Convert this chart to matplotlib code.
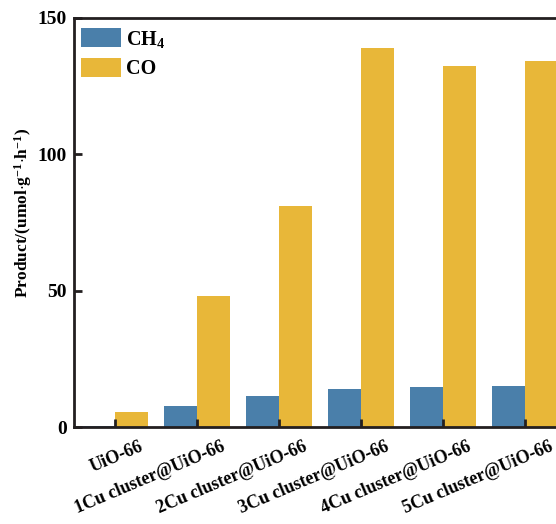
import matplotlib
matplotlib.use("Agg")
import matplotlib.pyplot as plt
import matplotlib.transforms as mtransforms
import numpy as np

plt.rcParams['font.family'] = ['Liberation Serif', 'DejaVu Serif']
plt.rcParams['font.weight'] = 'bold'
plt.rcParams['mathtext.fontset'] = 'custom'
plt.rcParams['mathtext.rm'] = 'Liberation Serif:bold'
plt.rcParams['mathtext.it'] = 'Liberation Serif:bold'
plt.rcParams['mathtext.bf'] = 'Liberation Serif:bold'

# data
samples = ['UiO-66', '1Cu cluster@UiO-66', '2Cu cluster@UiO-66',
           '3Cu cluster@UiO-66', '4Cu cluster@UiO-66', '5Cu cluster@UiO-66']
ch4 = [0.4, 7.7, 11.4, 13.9, 14.7, 15.0]
co = [5.5, 48.0, 81.0, 139.0, 132.4, 134.2]
yticks = [0, 50, 100, 150]

c_ch4 = '#4A7FAA'
c_co = '#E8B739'

W, H = 556, 524
fig = plt.figure(figsize=(W / 100, H / 100), dpi=100)
ax = fig.add_axes([74 / W, 1 - 427 / H, (566 - 74) / W, (427 - 18) / H])

x = np.arange(len(samples))
w = 0.4
ax.bar(x - w / 2, ch4, w, color=c_ch4, label='CH$_4$')
ax.bar(x + w / 2, co, w, color=c_co, label='CO')

ax.set_xlim(-0.5, len(samples) - 0.5)
ax.set_ylim(0, 150)
ax.set_yticks(yticks)
ax.set_xticks(x)
ax.set_xticklabels([])

# category labels, shifted a bit to the right of the ticks like the original
off = mtransforms.ScaledTranslation(24 / 100, -11 / 100, fig.dpi_scale_trans)
trans = ax.get_xaxis_transform() + off
for xi, name in zip(x, samples):
    ax.text(xi, 0, name, transform=trans, rotation=23, ha='right', va='top',
            rotation_mode='anchor', fontsize=13, fontweight='bold')

for s in ax.spines.values():
    s.set_linewidth(2)
    s.set_color('#231f20')
ax.tick_params(axis='both', direction='in', length=6, width=2, color='#231f20')
ax.tick_params(axis='y', labelsize=14, pad=5)

ax.set_ylabel('Product/(umol$\\cdot$g$^{-1}$$\\cdot$h$^{-1}$)', fontsize=12.5,
              fontweight='bold')
ax.yaxis.set_label_coords(-0.082, 0.523)

ax.legend(loc='upper left', bbox_to_anchor=(81 / W, 1 - 28 / H),
          bbox_transform=fig.transFigure, frameon=False, fontsize=14.5,
          handlelength=2.0, handleheight=1.1, labelspacing=0.4,
          handletextpad=0.25, borderpad=0, borderaxespad=0)

fig.savefig('out.png', dpi=100)
